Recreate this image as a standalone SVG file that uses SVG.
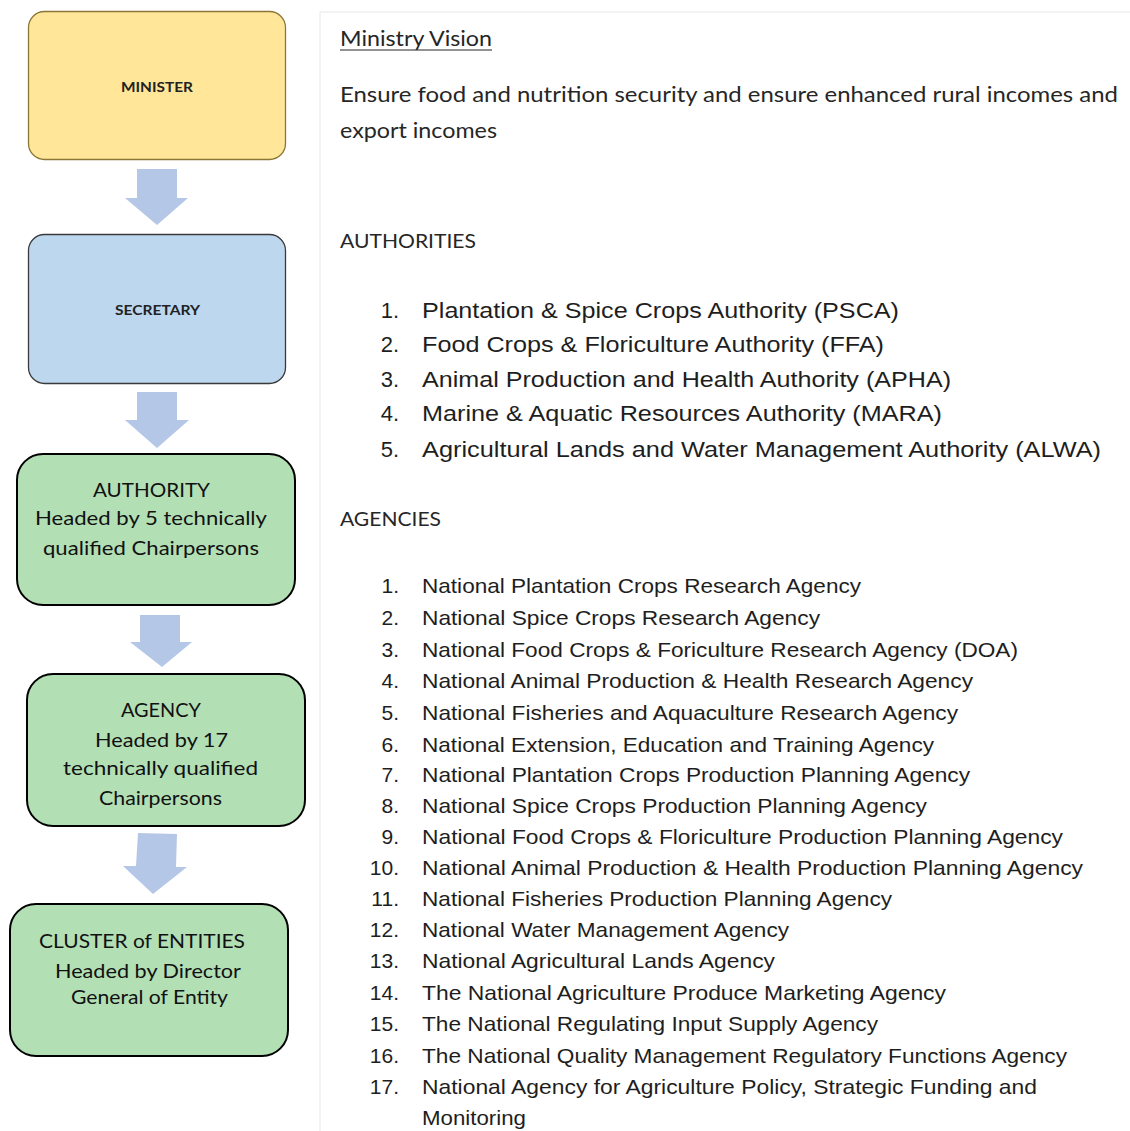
<svg xmlns="http://www.w3.org/2000/svg" width="1130" height="1131" viewBox="0 0 1130 1131">
<style>
.box-text{font-family:Lato,"Open Sans","Liberation Sans",sans-serif;font-size:20px;fill:#111;text-anchor:middle}
.small{font-family:Lato,"Open Sans","Liberation Sans",sans-serif;font-size:13px;font-weight:bold;fill:#222;text-anchor:middle}
.cal{font-family:Lato,"Open Sans","Liberation Sans",sans-serif;fill:#262626}
.ar{font-family:"Liberation Sans",Arial,sans-serif;fill:#1e1e1e}
.num{font-family:"Liberation Sans",Arial,sans-serif;fill:#1e1e1e;text-anchor:end}
.green{fill:#b3dfb5;stroke:#000;stroke-width:2}
.arrow{fill:#b4c7e7;stroke:none}
</style>
<rect width="1130" height="1131" fill="#fff"/>
<g id="panel">
<line x1="320" y1="12" x2="1130" y2="12" stroke="#efefef" stroke-width="1.5"/>
<line x1="320" y1="12" x2="320" y2="1131" stroke="#efefef" stroke-width="1.5"/>
</g>
<g id="connectors">
<polygon class="arrow" points="137,169 177,169 177,198 188,198 157,225 125,198 137,198"/>
<polygon class="arrow" points="137,392 177,392 177,420 189,420 157,448 125,420 137,420"/>
<polygon class="arrow" points="140,615 180,615 180,642 192,642 162,667 130,642 140,642"/>
<polygon class="arrow" points="138,833 177,834 176,867 187,867 153,894 123,866 136,866"/>
</g>
<g id="minister">
<rect x="28.5" y="11.5" width="257" height="148" rx="16" fill="#ffe699" stroke="#8a7636" stroke-width="1.3"/>
<text class="small" x="157" y="92" textLength="72" lengthAdjust="spacingAndGlyphs">MINISTER</text>
</g>
<g id="secretary">
<rect x="28.5" y="234.5" width="257" height="149" rx="16" fill="#bdd7ee" stroke="#3a3a3a" stroke-width="1.3"/>
<text class="small" x="157.5" y="315" textLength="85" lengthAdjust="spacingAndGlyphs">SECRETARY</text>
</g>
<g id="authority">
<rect class="green" x="17" y="454" width="278" height="151" rx="26"/>
<text class="box-text" x="151.5" y="497" textLength="117" lengthAdjust="spacingAndGlyphs">AUTHORITY</text>
<text class="box-text" x="151" y="525" textLength="232" lengthAdjust="spacingAndGlyphs">Headed by 5 technically</text>
<text class="box-text" x="151" y="555" textLength="216" lengthAdjust="spacingAndGlyphs">qualified Chairpersons</text>
</g>
<g id="agency">
<rect class="green" x="27" y="674" width="278" height="152" rx="26"/>
<text class="box-text" x="161" y="717" textLength="80" lengthAdjust="spacingAndGlyphs">AGENCY</text>
<text class="box-text" x="161.5" y="747" textLength="133" lengthAdjust="spacingAndGlyphs">Headed by 17</text>
<text class="box-text" x="160.5" y="775" textLength="195" lengthAdjust="spacingAndGlyphs">technically qualified</text>
<text class="box-text" x="160.5" y="805" textLength="123" lengthAdjust="spacingAndGlyphs">Chairpersons</text>
</g>
<g id="cluster">
<rect class="green" x="10" y="904" width="278" height="152" rx="26"/>
<text class="box-text" x="142" y="948" textLength="206" lengthAdjust="spacingAndGlyphs">CLUSTER of ENTITIES</text>
<text class="box-text" x="148" y="978" textLength="186" lengthAdjust="spacingAndGlyphs">Headed by Director</text>
<text class="box-text" x="149.5" y="1004" textLength="157" lengthAdjust="spacingAndGlyphs">General of Entity</text>
</g>
<g id="vision">
<text class="cal" x="340" y="46" font-size="21" textLength="152" lengthAdjust="spacingAndGlyphs">Ministry Vision</text>
<line x1="340" y1="50" x2="492" y2="50" stroke="#262626" stroke-width="1.2"/>
<text class="cal" x="340" y="102" font-size="21" textLength="778" lengthAdjust="spacingAndGlyphs">Ensure food and nutrition security and ensure enhanced rural incomes and</text>
<text class="cal" x="340" y="138" font-size="21" textLength="157" lengthAdjust="spacingAndGlyphs">export incomes</text>
</g>
<g id="authorities-list">
<text class="cal" x="340" y="248" font-size="19" textLength="136" lengthAdjust="spacingAndGlyphs">AUTHORITIES</text>
<g font-size="22">
<text class="num" x="399" y="318">1.</text><text class="ar" x="422" y="318" textLength="477" lengthAdjust="spacingAndGlyphs">Plantation &amp; Spice Crops Authority (PSCA)</text>
<text class="num" x="399" y="352">2.</text><text class="ar" x="422" y="352" textLength="462" lengthAdjust="spacingAndGlyphs">Food Crops &amp; Floriculture Authority (FFA)</text>
<text class="num" x="399" y="387">3.</text><text class="ar" x="422" y="387" textLength="529" lengthAdjust="spacingAndGlyphs">Animal Production and Health Authority (APHA)</text>
<text class="num" x="399" y="421">4.</text><text class="ar" x="422" y="421" textLength="520" lengthAdjust="spacingAndGlyphs">Marine &amp; Aquatic Resources Authority (MARA)</text>
<text class="num" x="399" y="457">5.</text><text class="ar" x="422" y="457" textLength="679" lengthAdjust="spacingAndGlyphs">Agricultural Lands and Water Management Authority (ALWA)</text>
</g>
</g>
<g id="agencies-list">
<text class="cal" x="340" y="526" font-size="19" textLength="101" lengthAdjust="spacingAndGlyphs">AGENCIES</text>
<g font-size="21">
<text class="num" x="399" y="593">1.</text><text class="ar" x="422" y="593" textLength="439" lengthAdjust="spacingAndGlyphs">National Plantation Crops Research Agency</text>
<text class="num" x="399" y="625">2.</text><text class="ar" x="422" y="625" textLength="398" lengthAdjust="spacingAndGlyphs">National Spice Crops Research Agency</text>
<text class="num" x="399" y="657">3.</text><text class="ar" x="422" y="657" textLength="596" lengthAdjust="spacingAndGlyphs">National Food Crops &amp; Foriculture Research Agency (DOA)</text>
<text class="num" x="399" y="688">4.</text><text class="ar" x="422" y="688" textLength="551" lengthAdjust="spacingAndGlyphs">National Animal Production &amp; Health Research Agency</text>
<text class="num" x="399" y="720">5.</text><text class="ar" x="422" y="720" textLength="536" lengthAdjust="spacingAndGlyphs">National Fisheries and Aquaculture Research Agency</text>
<text class="num" x="399" y="752">6.</text><text class="ar" x="422" y="752" textLength="512" lengthAdjust="spacingAndGlyphs">National Extension, Education and Training Agency</text>
<text class="num" x="399" y="782">7.</text><text class="ar" x="422" y="782" textLength="548" lengthAdjust="spacingAndGlyphs">National Plantation Crops Production Planning Agency</text>
<text class="num" x="399" y="813">8.</text><text class="ar" x="422" y="813" textLength="505" lengthAdjust="spacingAndGlyphs">National Spice Crops Production Planning Agency</text>
<text class="num" x="399" y="844">9.</text><text class="ar" x="422" y="844" textLength="641" lengthAdjust="spacingAndGlyphs">National Food Crops &amp; Floriculture Production Planning Agency</text>
<text class="num" x="399" y="875">10.</text><text class="ar" x="422" y="875" textLength="661" lengthAdjust="spacingAndGlyphs">National Animal Production &amp; Health Production Planning Agency</text>
<text class="num" x="399" y="906">11.</text><text class="ar" x="422" y="906" textLength="470" lengthAdjust="spacingAndGlyphs">National Fisheries Production Planning Agency</text>
<text class="num" x="399" y="937">12.</text><text class="ar" x="422" y="937" textLength="367" lengthAdjust="spacingAndGlyphs">National Water Management Agency</text>
<text class="num" x="399" y="968">13.</text><text class="ar" x="422" y="968" textLength="353" lengthAdjust="spacingAndGlyphs">National Agricultural Lands Agency</text>
<text class="num" x="399" y="1000">14.</text><text class="ar" x="422" y="1000" textLength="524" lengthAdjust="spacingAndGlyphs">The National Agriculture Produce Marketing Agency</text>
<text class="num" x="399" y="1031">15.</text><text class="ar" x="422" y="1031" textLength="456" lengthAdjust="spacingAndGlyphs">The National Regulating Input Supply Agency</text>
<text class="num" x="399" y="1063">16.</text><text class="ar" x="422" y="1063" textLength="645" lengthAdjust="spacingAndGlyphs">The National Quality Management Regulatory Functions Agency</text>
<text class="num" x="399" y="1094">17.</text><text class="ar" x="422" y="1094" textLength="615" lengthAdjust="spacingAndGlyphs">National Agency for Agriculture Policy, Strategic Funding and</text>
<text class="ar" x="422" y="1125" textLength="104" lengthAdjust="spacingAndGlyphs">Monitoring</text>
</g>
</g>
</svg>
